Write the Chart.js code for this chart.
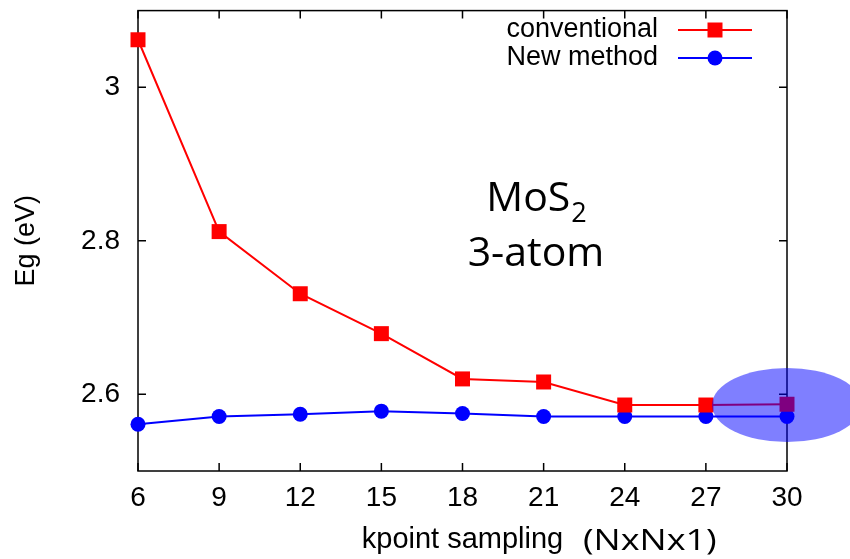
<!DOCTYPE html>
<html>
<head>
<meta charset="utf-8">
<script src="https://cdn.jsdelivr.net/npm/chart.js@4/dist/chart.umd.min.js"></script>
<style>
  body { margin: 0; background: #fff; }
  canvas { display: block; }
</style>
</head>
<body>
<canvas id="myChart" width="850" height="559"></canvas>
<script>
// data
const kpoints = [6, 9, 12, 15, 18, 21, 24, 27, 30];
const conventional = [3.062, 2.812, 2.731, 2.679, 2.620, 2.616, 2.586, 2.586, 2.587];
const newMethod = [2.561, 2.571, 2.574, 2.578, 2.575, 2.571, 2.571, 2.571, 2.571];
const yTicks = [2.6, 2.8, 3.0];
const seriesLabels = ["conventional", "New method"];

// the highlighted spot at the right end
const highlightX = 30;
const highlightY = 2.586;

const axisFont = "'Liberation Sans', Arial, sans-serif";
const noteFont = "'Open Sans', sans-serif";

function toPoints(values) {
  return kpoints.map((k, i) => ({ x: k, y: values[i] }));
}

// frame and inward ticks on all four sides, gnuplot style
const framePlugin = {
  id: "frame",
  beforeDatasetsDraw(chart) {
    const { ctx, chartArea: a, scales } = chart;
    const len = 8;
    ctx.save();
    ctx.strokeStyle = "#000";
    ctx.lineWidth = 1.5;
    ctx.strokeRect(a.left, a.top, a.right - a.left, a.bottom - a.top);
    ctx.beginPath();
    kpoints.forEach((k) => {
      const px = scales.x.getPixelForValue(k);
      ctx.moveTo(px, a.bottom);
      ctx.lineTo(px, a.bottom - len);
      ctx.moveTo(px, a.top);
      ctx.lineTo(px, a.top + len);
    });
    yTicks.forEach((v) => {
      const py = scales.y.getPixelForValue(v);
      ctx.moveTo(a.left, py);
      ctx.lineTo(a.left + len, py);
      ctx.moveTo(a.right, py);
      ctx.lineTo(a.right - len, py);
    });
    ctx.stroke();
    ctx.restore();
  },
  afterDraw(chart) {
    const { ctx, scales } = chart;
    ctx.save();

    // legend: text right aligned, line sample with marker after it
    ctx.font = "27px " + axisFont;
    ctx.textAlign = "right";
    ctx.textBaseline = "middle";
    chart.data.datasets.forEach((ds, i) => {
      const y = 30 + i * 28;
      ctx.fillStyle = "#000";
      ctx.fillText(ds.label, 658, y);
      ctx.strokeStyle = ds.borderColor;
      ctx.lineWidth = 2;
      ctx.beginPath();
      ctx.moveTo(678, y);
      ctx.lineTo(752, y);
      ctx.stroke();
      ctx.fillStyle = ds.backgroundColor;
      ctx.beginPath();
      if (ds.pointStyle === "rect") {
        ctx.rect(715 - 7.5, y - 7.5, 15, 15);
      } else {
        ctx.arc(715, y, 7.5, 0, Math.PI * 2);
      }
      ctx.fill();
    });

    // MoS2 3-atom note
    ctx.fillStyle = "#000";
    ctx.textAlign = "left";
    ctx.textBaseline = "alphabetic";
    const mos = "MoS";
    ctx.font = "41px " + noteFont;
    const w1 = ctx.measureText(mos).width;
    ctx.font = "27px " + noteFont;
    const w2 = ctx.measureText("2").width;
    const cx = 536;
    const x0 = cx - (w1 + w2) / 2;
    ctx.font = "41px " + noteFont;
    ctx.fillText(mos, x0, 211);
    ctx.font = "27px " + noteFont;
    ctx.fillText("2", x0 + w1 + 1, 222);
    ctx.font = "41px " + noteFont;
    ctx.textAlign = "center";
    ctx.fillText("3-atom", cx, 266);

    // (NxNx1) after the axis title, a bit wide like the original
    ctx.save();
    ctx.translate(583, 550);
    ctx.scale(1.2, 1);
    ctx.textAlign = "left";
    ctx.font = "30px " + noteFont;
    ctx.fillText("(NxNx1)", 0, 0);
    ctx.restore();

    // translucent ellipse over the converged end
    const ex = scales.x.getPixelForValue(highlightX);
    const ey = scales.y.getPixelForValue(highlightY);
    ctx.fillStyle = "rgba(0, 0, 255, 0.5)";
    ctx.beginPath();
    ctx.ellipse(ex, ey, 75, 37, 0, 0, Math.PI * 2);
    ctx.fill();

    ctx.restore();
  },
};

const ctx = document.getElementById("myChart");

const myChart = new Chart(ctx, {
  type: "line",
  data: {
    datasets: [
      {
        label: seriesLabels[0],
        data: toPoints(conventional),
        borderColor: "#ff0000",
        backgroundColor: "#ff0000",
        borderWidth: 2,
        pointStyle: "rect",
        pointRadius: 10.6,
        pointBorderWidth: 0,
        tension: 0,
        clip: false,
      },
      {
        label: seriesLabels[1],
        data: toPoints(newMethod),
        borderColor: "#0000ff",
        backgroundColor: "#0000ff",
        borderWidth: 2,
        pointStyle: "circle",
        pointRadius: 7.5,
        pointBorderWidth: 0,
        tension: 0,
        clip: false,
      },
    ],
  },
  options: {
    responsive: false,
    animation: false,
    devicePixelRatio: 1,
    layout: { padding: { top: 9, right: 63, left: 0, bottom: 0 } },
    plugins: {
      legend: { display: false },
      tooltip: { enabled: false },
    },
    scales: {
      x: {
        type: "linear",
        min: 6,
        max: 30,
        afterBuildTicks: (scale) => {
          scale.ticks = kpoints.map((v) => ({ value: v }));
        },
        afterFit: (scale) => {
          scale.height = 88;
          scale.paddingLeft = 0;
          scale.paddingRight = 0;
        },
        grid: { display: false, drawTicks: false },
        border: { display: false },
        ticks: {
          padding: 10,
          color: "#000",
          font: { family: axisFont, size: 28 },
          maxRotation: 0,
        },
        title: {
          display: true,
          text: "kpoint sampling",
          color: "#000",
          font: { family: axisFont, size: 29 },
          padding: { bottom: 2 },
        },
      },
      y: {
        min: 2.5,
        max: 3.1,
        afterBuildTicks: (scale) => {
          scale.ticks = yTicks.map((v) => ({ value: v }));
        },
        afterFit: (scale) => {
          scale.width = 138;
          scale.paddingTop = 0;
          scale.paddingBottom = 0;
        },
        grid: { display: false, drawTicks: false },
        border: { display: false },
        ticks: {
          padding: 18,
          color: "#000",
          font: { family: axisFont, size: 28 },
          callback: (v) => String(Number(v.toFixed(1))),
        },
        title: {
          display: true,
          text: "Eg (eV)",
          color: "#000",
          font: { family: axisFont, size: 27 },
          padding: { top: 10 },
        },
      },
    },
  },
  plugins: [framePlugin],
});
</script>
</body>
</html>
